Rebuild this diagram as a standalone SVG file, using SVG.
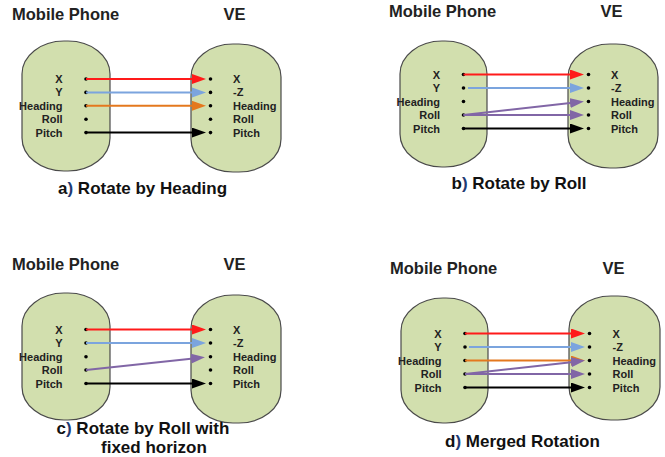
<svg xmlns="http://www.w3.org/2000/svg" width="665" height="457" viewBox="0 0 665 457">
<defs>
<style>
.shape{fill:#d2dfae;stroke:#4a4a4a;stroke-width:1.2}
.hdr{font-family:"Liberation Sans",Arial,sans-serif;font-weight:bold;font-size:16.5px;fill:#222}
.cap{font-family:"Liberation Sans",Arial,sans-serif;font-weight:bold;font-size:17px;fill:#111}
.par{fill:#1f3b73}
.lbl{font-family:"Liberation Sans",Arial,sans-serif;font-weight:bold;font-size:11px;fill:#222}
.l{text-anchor:end}
.ln{fill:none;stroke-width:2}
.red{stroke:#ff1a1a;marker-end:url(#mr)}
.blue{stroke:#7ba4de;marker-end:url(#mb)}
.org{stroke:#e4781e;marker-end:url(#mo)}
.pur{stroke:#8166a6;marker-end:url(#mp)}
.blk{stroke:#000;marker-end:url(#mk)}
</style>
<marker id="mr" markerUnits="userSpaceOnUse" markerWidth="15" markerHeight="11" refX="7" refY="5" orient="auto"><path d="M0,0 L14,5 L0,10 Z" fill="#ff1a1a"/></marker>
<marker id="mb" markerUnits="userSpaceOnUse" markerWidth="15" markerHeight="11" refX="7" refY="5" orient="auto"><path d="M0,0 L14,5 L0,10 Z" fill="#7ba4de"/></marker>
<marker id="mo" markerUnits="userSpaceOnUse" markerWidth="15" markerHeight="11" refX="7" refY="5" orient="auto"><path d="M0,0 L14,5 L0,10 Z" fill="#e4781e"/></marker>
<marker id="mp" markerUnits="userSpaceOnUse" markerWidth="15" markerHeight="11" refX="7" refY="5" orient="auto"><path d="M0,0 L14,5 L0,10 Z" fill="#8166a6"/></marker>
<marker id="mk" markerUnits="userSpaceOnUse" markerWidth="15" markerHeight="11" refX="7" refY="5" orient="auto"><path d="M0,0 L14,5 L0,10 Z" fill="#000"/></marker>
</defs>
<rect width="665" height="457" fill="#fff"/>

<!-- Panel a -->
<g id="panel-a">
<text class="hdr" x="12" y="19.5">Mobile Phone</text>
<text class="hdr" x="223.5" y="19.5">VE</text>
<g id="a-phone">
<rect class="shape" x="22" y="41" width="88" height="130" rx="42" ry="33"/>
<text class="lbl l" x="62.5" y="83">X</text>
<text class="lbl l" x="62.5" y="96.4">Y</text>
<text class="lbl l" x="62.5" y="109.8">Heading</text>
<text class="lbl l" x="62.5" y="123.2">Roll</text>
<text class="lbl l" x="62.5" y="136.6">Pitch</text>
<circle cx="86" cy="79" r="1.8"/><circle cx="86" cy="92.4" r="1.8"/><circle cx="86" cy="105.8" r="1.8"/><circle cx="86" cy="119.2" r="1.8"/><circle cx="86" cy="132.6" r="1.8"/>
</g>
<g id="a-ve">
<rect class="shape" x="191" y="44" width="90" height="128" rx="42" ry="33"/>
<text class="lbl" x="233" y="83">X</text>
<text class="lbl" x="233" y="96.4">-Z</text>
<text class="lbl" x="233" y="109.8">Heading</text>
<text class="lbl" x="233" y="123.2">Roll</text>
<text class="lbl" x="233" y="136.6">Pitch</text>
<circle cx="210.5" cy="79" r="1.8"/><circle cx="210.5" cy="92.4" r="1.8"/><circle cx="210.5" cy="105.8" r="1.8"/><circle cx="210.5" cy="119.2" r="1.8"/><circle cx="210.5" cy="132.6" r="1.8"/>
</g>
<g id="a-connectors">
<line class="ln red" x1="86" y1="79" x2="199" y2="79"/>
<line class="ln blue" x1="86" y1="92.4" x2="199" y2="92.4"/>
<line class="ln org" x1="86" y1="105.8" x2="199" y2="105.8"/>
<line class="ln blk" x1="86" y1="132.6" x2="199" y2="132.6"/>
</g>
<text class="cap" x="58" y="194">a<tspan class="par">)</tspan> Rotate by Heading</text>
</g>

<!-- Panel b -->
<g id="panel-b">
<text class="hdr" x="389" y="16.5">Mobile Phone</text>
<text class="hdr" x="600.5" y="16.5">VE</text>
<g id="b-phone">
<rect class="shape" x="400" y="41" width="87" height="126" rx="42" ry="33"/>
<text class="lbl l" x="440" y="78.5">X</text>
<text class="lbl l" x="440" y="92">Y</text>
<text class="lbl l" x="440" y="105.5">Heading</text>
<text class="lbl l" x="440" y="119">Roll</text>
<text class="lbl l" x="440" y="132.5">Pitch</text>
<circle cx="463.5" cy="74.5" r="1.8"/><circle cx="463.5" cy="88" r="1.8"/><circle cx="463.5" cy="101.5" r="1.8"/><circle cx="463.5" cy="115" r="1.8"/><circle cx="463.5" cy="128.5" r="1.8"/>
</g>
<g id="b-ve">
<rect class="shape" x="568" y="44" width="90" height="124" rx="42" ry="33"/>
<text class="lbl" x="611" y="78.5">X</text>
<text class="lbl" x="611" y="92">-Z</text>
<text class="lbl" x="611" y="105.5">Heading</text>
<text class="lbl" x="611" y="119">Roll</text>
<text class="lbl" x="611" y="132.5">Pitch</text>
<circle cx="588.5" cy="74.5" r="1.8"/><circle cx="588.5" cy="88" r="1.8"/><circle cx="588.5" cy="101.5" r="1.8"/><circle cx="588.5" cy="115" r="1.8"/><circle cx="588.5" cy="128.5" r="1.8"/>
</g>
<g id="b-connectors">
<line class="ln red" x1="463.5" y1="74.5" x2="577" y2="74.5"/>
<line class="ln blue" x1="468" y1="88" x2="577" y2="88"/>
<line class="ln pur" x1="463.5" y1="115" x2="577" y2="102.3"/>
<line class="ln pur" x1="463.5" y1="115" x2="577" y2="115"/>
<line class="ln blk" x1="463.5" y1="128.5" x2="577" y2="128.5"/>
</g>
<text class="cap" x="451.5" y="189">b<tspan class="par">)</tspan> Rotate by Roll</text>
</g>

<!-- Panel c -->
<g id="panel-c">
<text class="hdr" x="12" y="270">Mobile Phone</text>
<text class="hdr" x="223.5" y="270">VE</text>
<g id="c-phone">
<rect class="shape" x="22" y="293" width="88" height="127" rx="42" ry="33"/>
<text class="lbl l" x="62.5" y="333.5">X</text>
<text class="lbl l" x="62.5" y="347">Y</text>
<text class="lbl l" x="62.5" y="360.7">Heading</text>
<text class="lbl l" x="62.5" y="374">Roll</text>
<text class="lbl l" x="62.5" y="387.5">Pitch</text>
<circle cx="86" cy="329.5" r="1.8"/><circle cx="86" cy="343" r="1.8"/><circle cx="86" cy="356.7" r="1.8"/><circle cx="86" cy="370" r="1.8"/><circle cx="86" cy="383.5" r="1.8"/>
</g>
<g id="c-ve">
<rect class="shape" x="191" y="295" width="90" height="128" rx="42" ry="33"/>
<text class="lbl" x="233" y="333.5">X</text>
<text class="lbl" x="233" y="347">-Z</text>
<text class="lbl" x="233" y="360.7">Heading</text>
<text class="lbl" x="233" y="374">Roll</text>
<text class="lbl" x="233" y="387.5">Pitch</text>
<circle cx="210.5" cy="329.5" r="1.8"/><circle cx="210.5" cy="343" r="1.8"/><circle cx="210.5" cy="356.7" r="1.8"/><circle cx="210.5" cy="370" r="1.8"/><circle cx="210.5" cy="383.5" r="1.8"/>
</g>
<g id="c-connectors">
<line class="ln red" x1="86" y1="329.5" x2="199" y2="329.5"/>
<line class="ln blue" x1="86" y1="343" x2="199" y2="343"/>
<line class="ln pur" x1="86" y1="370" x2="198" y2="357.9"/>
<line class="ln blk" x1="86" y1="383.5" x2="199" y2="383.5"/>
</g>
<text class="cap" x="56.5" y="434">c<tspan class="par">)</tspan> Rotate by Roll with</text>
<text class="cap" x="101" y="453">fixed horizon</text>
</g>

<!-- Panel d -->
<g id="panel-d">
<text class="hdr" x="390" y="274">Mobile Phone</text>
<text class="hdr" x="602.5" y="274">VE</text>
<g id="d-phone">
<rect class="shape" x="401" y="298" width="87" height="125" rx="42" ry="33"/>
<text class="lbl l" x="441.5" y="337.5">X</text>
<text class="lbl l" x="441.5" y="351">Y</text>
<text class="lbl l" x="441.5" y="364.5">Heading</text>
<text class="lbl l" x="441.5" y="378">Roll</text>
<text class="lbl l" x="441.5" y="391.5">Pitch</text>
<circle cx="465" cy="333.5" r="1.8"/><circle cx="465" cy="347" r="1.8"/><circle cx="465" cy="360.5" r="1.8"/><circle cx="465" cy="374" r="1.8"/><circle cx="465" cy="387.5" r="1.8"/>
</g>
<g id="d-ve">
<rect class="shape" x="569" y="296" width="91" height="124" rx="42" ry="33"/>
<text class="lbl" x="612.5" y="337.5">X</text>
<text class="lbl" x="612.5" y="351">-Z</text>
<text class="lbl" x="612.5" y="364.5">Heading</text>
<text class="lbl" x="612.5" y="378">Roll</text>
<text class="lbl" x="612.5" y="391.5">Pitch</text>
<circle cx="589.5" cy="333.5" r="1.8"/><circle cx="589.5" cy="347" r="1.8"/><circle cx="589.5" cy="360.5" r="1.8"/><circle cx="589.5" cy="374" r="1.8"/><circle cx="589.5" cy="387.5" r="1.8"/>
</g>
<g id="d-connectors">
<line class="ln red" x1="465" y1="333.5" x2="578" y2="333.5"/>
<line class="ln blue" x1="469" y1="347" x2="578" y2="347"/>
<line class="ln org" x1="465" y1="360.5" x2="578" y2="360.5"/>
<line class="ln pur" x1="465" y1="374" x2="578" y2="361.4"/>
<line class="ln pur" x1="465" y1="374" x2="578" y2="374"/>
<line class="ln blk" x1="465" y1="387.5" x2="578" y2="387.5"/>
</g>
<text class="cap" x="445" y="447">d<tspan class="par">)</tspan> Merged Rotation</text>
</g>
</svg>
